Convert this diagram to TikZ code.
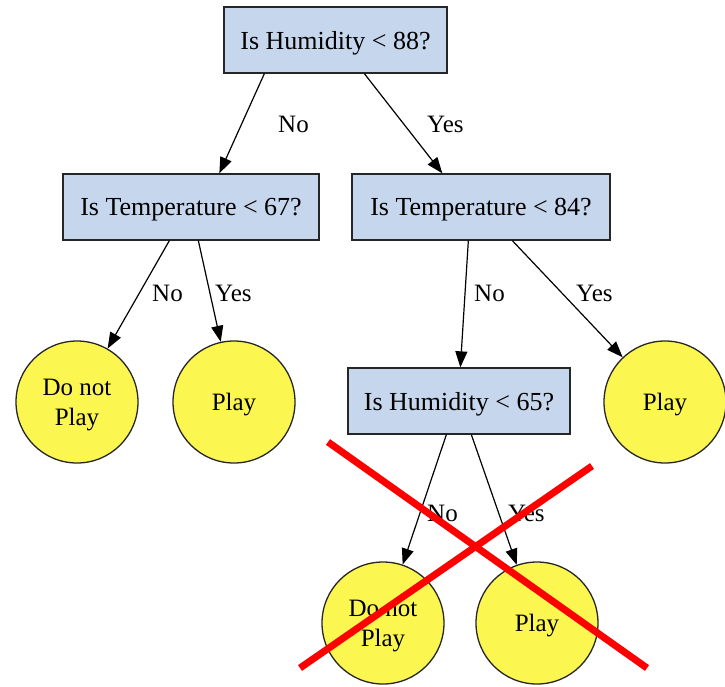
\documentclass[tikz,border=0pt]{standalone}
\usepackage{fontspec}
\setmainfont{Liberation Serif}
\usetikzlibrary{arrows.meta,calc}
\definecolor{boxblue}{RGB}{198,214,236}
\definecolor{leafyellow}{RGB}{252,246,80}
\definecolor{crossred}{RGB}{255,0,0}
\tikzset{
  qbox/.style={draw=black!85, line width=1.3pt, fill=boxblue, rectangle, minimum height=66pt, inner sep=0pt, text depth=0pt, font=\fontsize{26}{30}\selectfont},
  leaf/.style={draw=black!85, line width=1.3pt, fill=leafyellow, circle, minimum size=122pt, inner sep=0pt, align=center, text depth=0pt, font=\fontsize{25}{30}\selectfont},
  edge/.style={draw=black, line width=1.2pt, -{Triangle[length=16pt,width=12pt]}},
  elabel/.style={anchor=base west, inner sep=0pt, font=\fontsize{25}{30}\selectfont},
  crossline/.style={draw=crossred, line width=7pt}
}
\begin{document}
\begin{tikzpicture}[x=1pt,y=-1pt]
\useasboundingbox (0,0) rectangle (725,686);
% question boxes
\node[qbox, minimum width=223pt] (root) at (335.5,40) {Is Humidity < 88?};
\node[qbox, minimum width=256pt] (ltemp) at (191,207) {Is Temperature < 67?};
\node[qbox, minimum width=258pt] (rtemp) at (481,207) {Is Temperature < 84?};
\node[qbox, minimum width=222pt] (hum) at (459,401) {Is Humidity < 65?};
% leaves
\node[leaf] (l1) at (77,402) {Do not\\Play};
\node[leaf] (l2) at (234,402) {Play};
\node[leaf] (l3) at (665,402) {Play};
\node[leaf] (l4) at (383,623) {Do not\\Play};
\node[leaf] (l5) at (537,623) {Play};
% edges
\draw[edge] ($(root.south west)+(41,0)$) -- ($(ltemp.north west)+(157,0)$);
\draw[edge] ($(root.south west)+(141,0)$) -- ($(rtemp.north west)+(91,0)$);
\draw[edge] ($(ltemp.south west)+(107,0)$) -- (l1);
\draw[edge] ($(ltemp.south west)+(136,0)$) -- (l2);
\draw[edge] ($(rtemp.south west)+(117,0)$) -- ($(hum.north west)+(113,0)$);
\draw[edge] ($(rtemp.south west)+(161,0)$) -- (l3);
\draw[edge] ($(hum.south west)+(99,0)$) -- (l4);
\draw[edge] ($(hum.south west)+(124,0)$) -- (l5);
% edge labels
\node[elabel] (t1) at (278,132) {No};
\node[elabel] (t2) at (427,132) {Yes};
\node[elabel] (t3) at (152,301) {No};
\node[elabel] (t4) at (215,301) {Yes};
\node[elabel] (t5) at (474,301) {No};
\node[elabel] (t6) at (576,301) {Yes};
\node[elabel] (t7) at (427,521) {No};
\node[elabel] (t8) at (508,521) {Yes};
% red cross
\draw[crossline] (328,442) -- (647,668);
\draw[crossline] (592,466) -- (300,668);
\end{tikzpicture}
\end{document}
